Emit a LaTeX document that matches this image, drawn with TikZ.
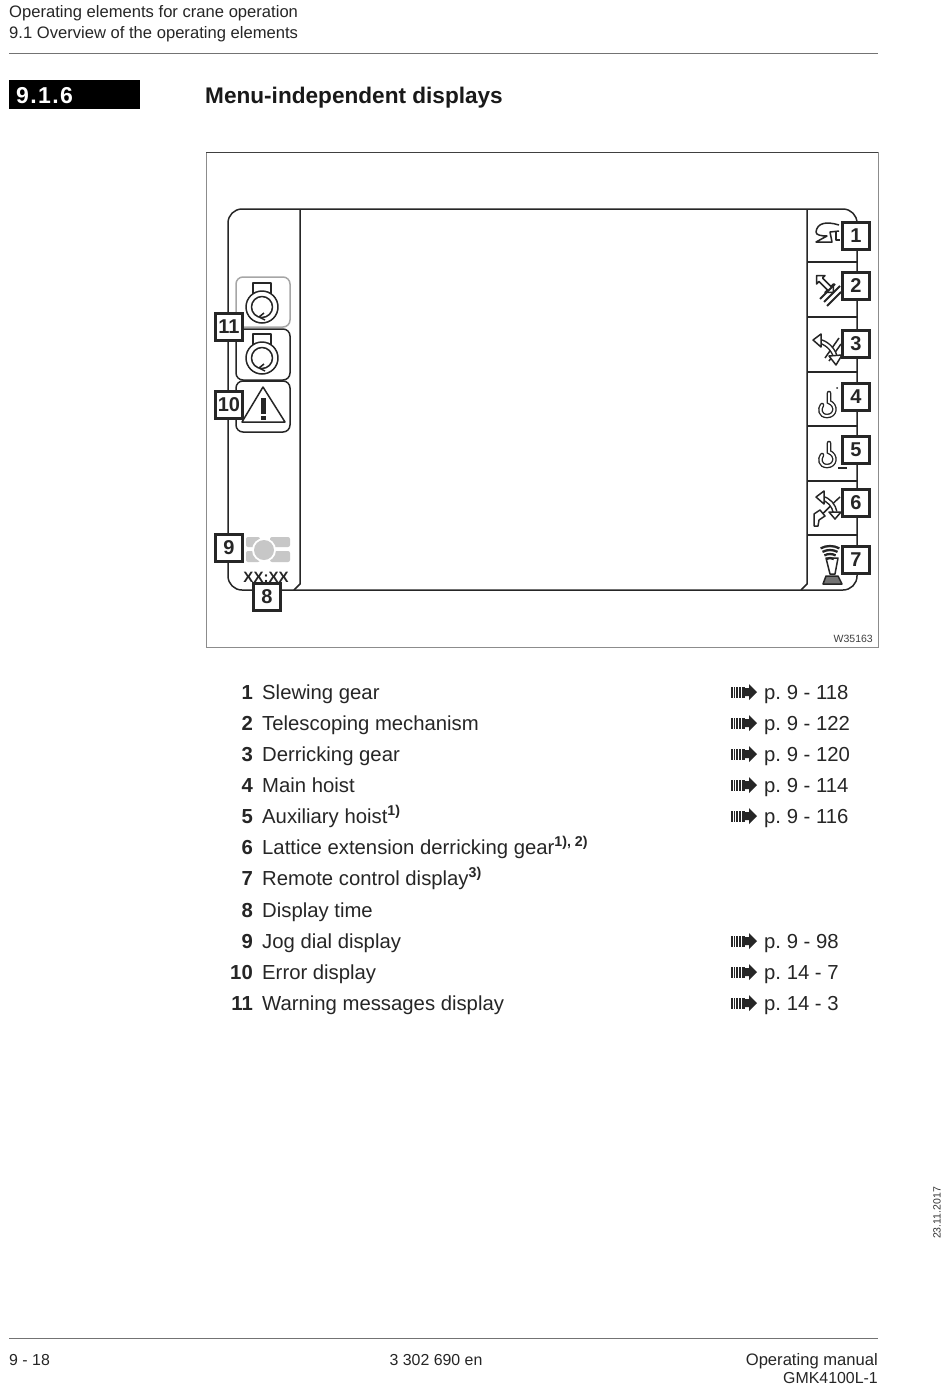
\documentclass[tikz,border=0pt]{standalone}
\usepackage{fontspec}
\setmainfont{Liberation Sans}
\usetikzlibrary{arrows.meta,positioning}
\frenchspacing

\tikzset{
  txt/.style={inner sep=0pt,anchor=base west,font=\fontsize{16.6}{16.6}\selectfont,text=black!85},
  foottxt/.style={txt,font=\fontsize{15.9}{15.9}\selectfont},
  rowtxt/.style={inner sep=0pt,anchor=base west,font=\fontsize{20.3}{20.3}\selectfont,text=black!85},
  rownum/.style={inner sep=0pt,anchor=base east,font=\fontsize{20.3}{20.3}\selectfont\bfseries,text=black!85},
  callout/.style={draw=black!85,line width=2.5pt,fill=white,minimum size=27pt,inner sep=0pt,
    font=\fontsize{20}{20}\selectfont\bfseries,text=black!85},
  scr/.style={draw=black!85,line width=1.5pt},
  ico/.style={draw=black!85,line width=1.5pt,line join=round},
  rule/.style={draw=black!55,line width=.8pt},
  refarrow/.pic={
    \foreach \xx in {0,2.7,5.4,8.1,10.5,12}
      \fill[black!85] (\xx,-5.5) rectangle ++(1.5,11);
    \fill[black!85] (13,-4) -- (18,-4) -- (18,-8) -- (26,0) -- (18,8) -- (18,4) -- (13,4) -- cycle;
  },
  keyicon/.pic={
    \draw[ico] (-9,-11) -- (-9,-24) -- (9,-24) -- (9,-11);
    \draw[ico,fill=white] (0,0) circle (16);
    \draw[ico] (0,0) circle (10.5);
    \draw[ico] (-3,10) -- (2,6) (-3,10) -- (3,13);
  },
  hookicon/.pic={
    \draw[black!85,line width=4.6pt,line cap=round] (2,-12) -- (2,-3) .. controls (10,0) and (9,11) .. (0,11)
      .. controls (-7,11) and (-8,4) .. (-5,0);
    \draw[white,line width=1.9pt,line cap=round] (2,-12) -- (2,-3) .. controls (10,0) and (9,11) .. (0,11)
      .. controls (-7,11) and (-8,4) .. (-5,0);
  }
}

\begin{document}
\begin{tikzpicture}[x=1pt,y=-1pt]
\useasboundingbox[fill=white] (0,0) rectangle (950,1384);

% header
\node[txt] (head1) at (9,17) {Operating elements for crane operation};
\node[txt] (head2) at (9,38) {9.1 Overview of the operating elements};
\draw[rule] (9,53) -- (878,53);
\fill[black] (9,80) rectangle (140,109);
\node[inner sep=0pt,anchor=base west,text=white,font=\fontsize{23}{23}\selectfont\bfseries\addfontfeatures{LetterSpace=6}] (secno) at (16,103) {9.1.6};
\node[inner sep=0pt,anchor=base west,font=\fontsize{22.6}{22.6}\selectfont\bfseries,text=black!90] (title) at (205,103) {Menu-independent displays};

% picture frame
\draw[draw=black!45,line width=1pt] (206,152) rectangle (878,647);
\draw[black!75,line width=1pt] (206,152) -- (878,152);

% screen
\draw[scr,rounded corners=14pt] (228,590) -- (228,209) -- (857,209) -- (857,590) -- cycle;
\draw[scr] (300,209) -- (300,584) -- (294,590);
\draw[scr] (807,209) -- (807,584) -- (801,590);
\foreach \yy in {262,317,372,426,481,535}
  \draw[scr,line width=1.1pt] (807,\yy) -- (857,\yy);

% left buttons
\draw[draw=black!35,line width=1.5pt,rounded corners=7pt] (236,277) rectangle (290,327);
\draw[scr,rounded corners=7pt] (236,329) rectangle (290,380);
\draw[scr,rounded corners=7pt] (236,381) rectangle (290,432);
\pic at (262,307) {keyicon};
\pic at (262,358) {keyicon};
\draw[ico] (263,387) -- (285,422) -- (242,422) -- cycle;
\fill[black!85] (261,398) rectangle (265.5,414);
\fill[black!85] (261,416) rectangle (265.5,420);

% jog dial
\fill[black!22,rounded corners=2pt] (246,537) rectangle (260,547);
\fill[black!22,rounded corners=2pt] (246,551) rectangle (260,562);
\fill[black!22,rounded corners=2pt] (270,537) rectangle (290,547);
\fill[black!22,rounded corners=2pt] (270,551) rectangle (290,562);
\fill[white] (264,550) circle (12);
\fill[black!22] (264,550) circle (10);
\node[inner sep=0pt,font=\fontsize{15}{15}\selectfont\bfseries,text=black!85] (clock) at (266,577) {XX:XX};

% slewing icon
\draw[ico] (839,225) .. controls (826,221) and (817,223) .. (816,232)
  .. controls (816,235) and (821,236) .. (827,236) -- (816,242) -- (832,242) -- (830,232) -- (839,231);
\draw[ico] (836,232) -- (836,240) -- (840,240);
% telescoping icon
\begin{scope}[shift={(825,284)},rotate=-45]
  \draw[ico] (-12,0) -- (-6,-6) -- (-6,-2.5) -- (6,-2.5) -- (6,-6) -- (12,0) -- (6,6) -- (6,2.5) -- (-6,2.5) -- (-6,6) -- cycle;
\end{scope}
\draw[black!85,line width=2pt] (824,302) -- (840,286) (827,306) -- (841,292) (820,299) -- (835,284);
% derricking icon
\draw[ico] (825,358) -- (839,338) (829,361) -- (841,344);
\draw[black!85,line width=5.2pt] (818,341) .. controls (826,342) and (833,349) .. (835,356);
\draw[white,line width=2.2pt] (818,341) .. controls (826,342) and (833,349) .. (835,356);
\draw[ico,fill=white] (821,334) -- (813,340) -- (821,347) -- cycle;
\draw[ico,fill=white] (829,356) -- (842,355) -- (836,365) -- cycle;
% main hoist icon
\pic at (827,405) {hookicon};
\fill[black!85] (837,388) circle (1);
% auxiliary hoist icon
\pic at (827,455) {hookicon};
\draw[ico] (838,468) -- (847,468);
% lattice derricking icon
\draw[ico] (819,517) .. controls (826,511) and (832,504) .. (840,497);
\draw[ico,fill=white] (814,514) -- (820,510) -- (825,516) -- (819,520) -- (818,526) -- (814,526) -- cycle;
\draw[black!85,line width=5.2pt] (821,498) .. controls (829,499) and (834,506) .. (835,512);
\draw[white,line width=2.2pt] (821,498) .. controls (829,499) and (834,506) .. (835,512);
\draw[ico,fill=white] (824,491) -- (816,497) -- (824,504) -- cycle;
\draw[ico,fill=white] (829,512) -- (841,512) -- (835,519) -- cycle;
% remote control icon
\foreach \rr in {8,12,16,20}
  \draw[black!85,line width=2.3pt] (830,566) ++(-118:\rr) arc (-118:-62:\rr);
\draw[ico] (826,558) -- (838,558) -- (835,574) -- (830,574) -- cycle;
\draw[ico,fill=black!55] (826,576) -- (838,576) -- (842,584) -- (823,584) -- cycle;

% callouts
\node[callout] (c1) at (856,236) {1};
\node[callout] (c2) at (856,286) {2};
\node[callout] (c3) at (856,344) {3};
\node[callout] (c4) at (856,397) {4};
\node[callout] (c5) at (856,450) {5};
\node[callout] (c6) at (856,503) {6};
\node[callout] (c7) at (856,560) {7};
\node[callout] (c8) at (267,597) {8};
\node[callout] (c9) at (229,548) {9};
\node[callout] (c10) at (229,405) {10};
\node[callout] (c11) at (229,327) {11};
\node[inner sep=0pt,anchor=base east,font=\fontsize{10.5}{10.5}\selectfont,text=black!75] (wno) at (873,642) {W35163};

% list
\foreach \i/\lab/\yy in {1/Slewing gear/699,2/Telescoping mechanism/730,3/Derricking gear/761,
    4/Main hoist/792,5/Auxiliary hoist\textsuperscript{\bfseries 1)}/823,
    6/Lattice extension derricking gear\textsuperscript{\bfseries 1), 2)}/854,
    7/Remote control display\textsuperscript{\bfseries 3)}/885,8/Display time/917,
    9/Jog dial display/948,10/Error display/979,11/Warning messages display/1010}{
  \node[rownum] (num\i) at (253,\yy) {\i};
  \node[rowtxt] (lab\i) at (262,\yy) {\lab};
}
\foreach \i/\pg/\yy in {1/9 - 118/699,2/9 - 122/730,3/9 - 120/761,4/9 - 114/792,5/9 - 116/823,
    9/9 - 98/948,10/14 - 7/979,11/14 - 3/1010}{
  \pic at (731,\yy-7) {refarrow};
  \node[rowtxt] (ref\i) at (764,\yy) {p. \pg};
}

% date and footer
\node[inner sep=0pt,rotate=90,font=\fontsize{10.5}{10.5}\selectfont,text=black!80] (date) at (937,1213) {23.11.2017};
\draw[rule] (9,1338) -- (878,1338);
\node[foottxt] (foot1) at (9,1365) {9 - 18};
\node[foottxt,anchor=base] (foot2) at (436,1365) {3 302 690 en};
\node[txt,anchor=base east] (foot3) at (878,1365) {Operating manual};
\node[foottxt,anchor=base east] (foot4) at (878,1383) {GMK4100L-1};
\end{tikzpicture}
\end{document}
